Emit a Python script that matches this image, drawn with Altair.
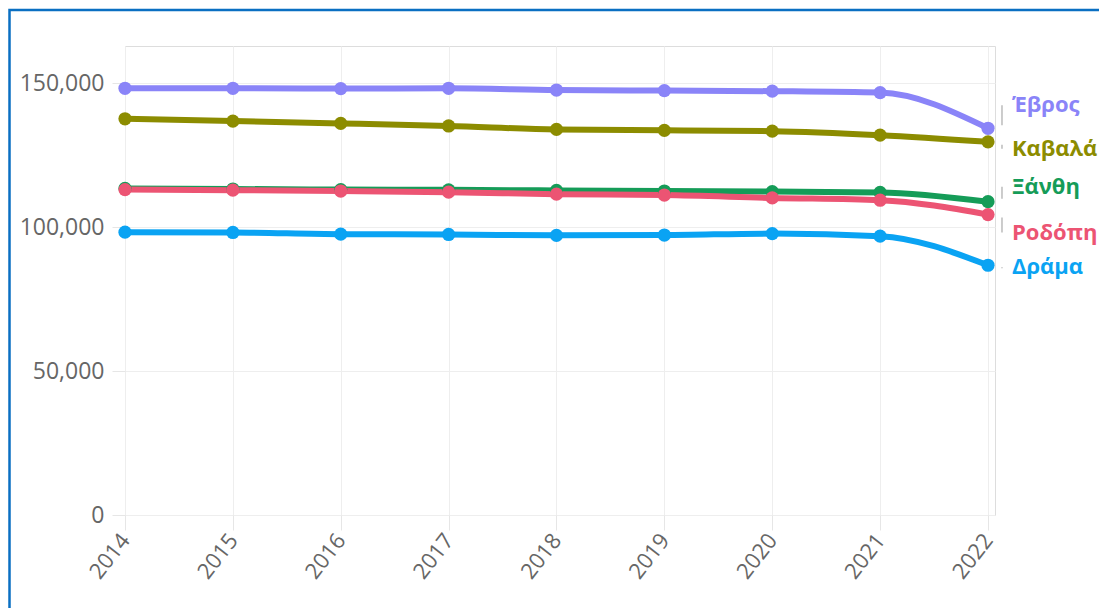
import altair as alt
import pandas as pd

years = [2014, 2015, 2016, 2017, 2018, 2019, 2020, 2021, 2022]
regions = ["Έβρος", "Καβαλά", "Ξάνθη", "Ροδόπη", "Δράμα"]
evros = [148300, 148300, 148200, 148300, 147700, 147500, 147300, 146800, 134400]
kavala = [137700, 136900, 136100, 135200, 134000, 133700, 133400, 132000, 129700]
xanthi = [113500, 113300, 113100, 113000, 112800, 112600, 112400, 112100, 108900]
rodopi = [113100, 112900, 112600, 112200, 111500, 111200, 110200, 109400, 104400]
drama = [98300, 98200, 97600, 97500, 97200, 97300, 97800, 96900, 86800]
colors = ["#8a84f8", "#8c8c00", "#159c58", "#ec5473", "#0aa3f3"]
y_ticks = [0, 50000, 100000, 150000]

series = {"Έβρος": evros, "Καβαλά": kavala, "Ξάνθη": xanthi,
          "Ροδόπη": rodopi, "Δράμα": drama}
rows = []
for name in regions:
    for y, v in zip(years, series[name]):
        rows.append({"year": y, "region": name, "value": v})
df = pd.DataFrame(rows)

# label offsets (pixels) to avoid collisions
label_dy = {"Έβρος": -23, "Καβαλά": 7, "Ξάνθη": -15, "Ροδόπη": 18, "Δράμα": 2}

FONT = "Open Sans"
xs = alt.Scale(domain=[2014, 2022.065], nice=False, zero=False)
ys = alt.Scale(domain=[0, 163000], nice=False)
color = alt.Color("region:N", scale=alt.Scale(domain=regions, range=colors), legend=None)

base = alt.Chart(df)

lines = base.mark_line(strokeWidth=6, interpolate="monotone").encode(
    x=alt.X("year:Q", scale=xs, title=None,
            axis=alt.Axis(values=years, format="d", labelAngle=-52, labelFontSize=22,
                          labelColor="#666666", labelFont=FONT, tickSize=15,
                          tickColor="#e6e6e6", domain=False, gridColor="#eeeeee",
                          labelPadding=6, labelAlign="right", labelBaseline="middle")),
    y=alt.Y("value:Q", scale=ys, title=None,
            axis=alt.Axis(values=y_ticks, format=",.0f", labelFontSize=23,
                          labelColor="#666666", labelFont=FONT, tickSize=13,
                          tickColor="#e6e6e6", domain=False, gridColor="#eeeeee",
                          labelPadding=8)),
    color=color,
    detail="region:N",
)

points = base.mark_circle(size=175, opacity=1).encode(
    x=alt.X("year:Q", scale=xs),
    y=alt.Y("value:Q", scale=ys),
    color=color,
)

layers = [lines, points]
last = base.transform_filter(alt.datum.year == 2022)
for name, col in zip(regions, colors):
    dy = label_dy[name]
    sub = last.transform_filter(alt.datum.region == name)
    layers.append(sub.mark_rule(color="#bbbbbb", strokeWidth=1.5, xOffset=14,
                                yOffset=-3 if dy < 0 else 3, y2Offset=dy).encode(
        x=alt.X("year:Q", scale=xs),
        y=alt.Y("value:Q", scale=ys),
        y2="value:Q",
    ))
    layers.append(sub.mark_text(align="left", baseline="middle", dx=24, dy=dy,
                                fontSize=22, fontWeight="bold", font=FONT,
                                color=col).encode(
        x=alt.X("year:Q", scale=xs),
        y=alt.Y("value:Q", scale=ys),
        text="region:N",
    ))

border = alt.Chart(pd.DataFrame({"a": [0]})).mark_rect(
    fill="transparent", stroke="#0a6fc2", strokeWidth=2.5
).encode(
    x=alt.value(-115.5), x2=alt.value(1300),
    y=alt.value(-36), y2=alt.value(1000),
)
layers.append(border)

chart = alt.layer(*layers).properties(
    width=870, height=469,
    autosize=alt.AutoSizeParams(type="none"),
    padding={"left": 117, "top": 38, "right": 104, "bottom": 93},
).configure_view(stroke=None).configure(background="white")

chart.save("out.html", embed_options={"renderer": "svg", "actions": False})
